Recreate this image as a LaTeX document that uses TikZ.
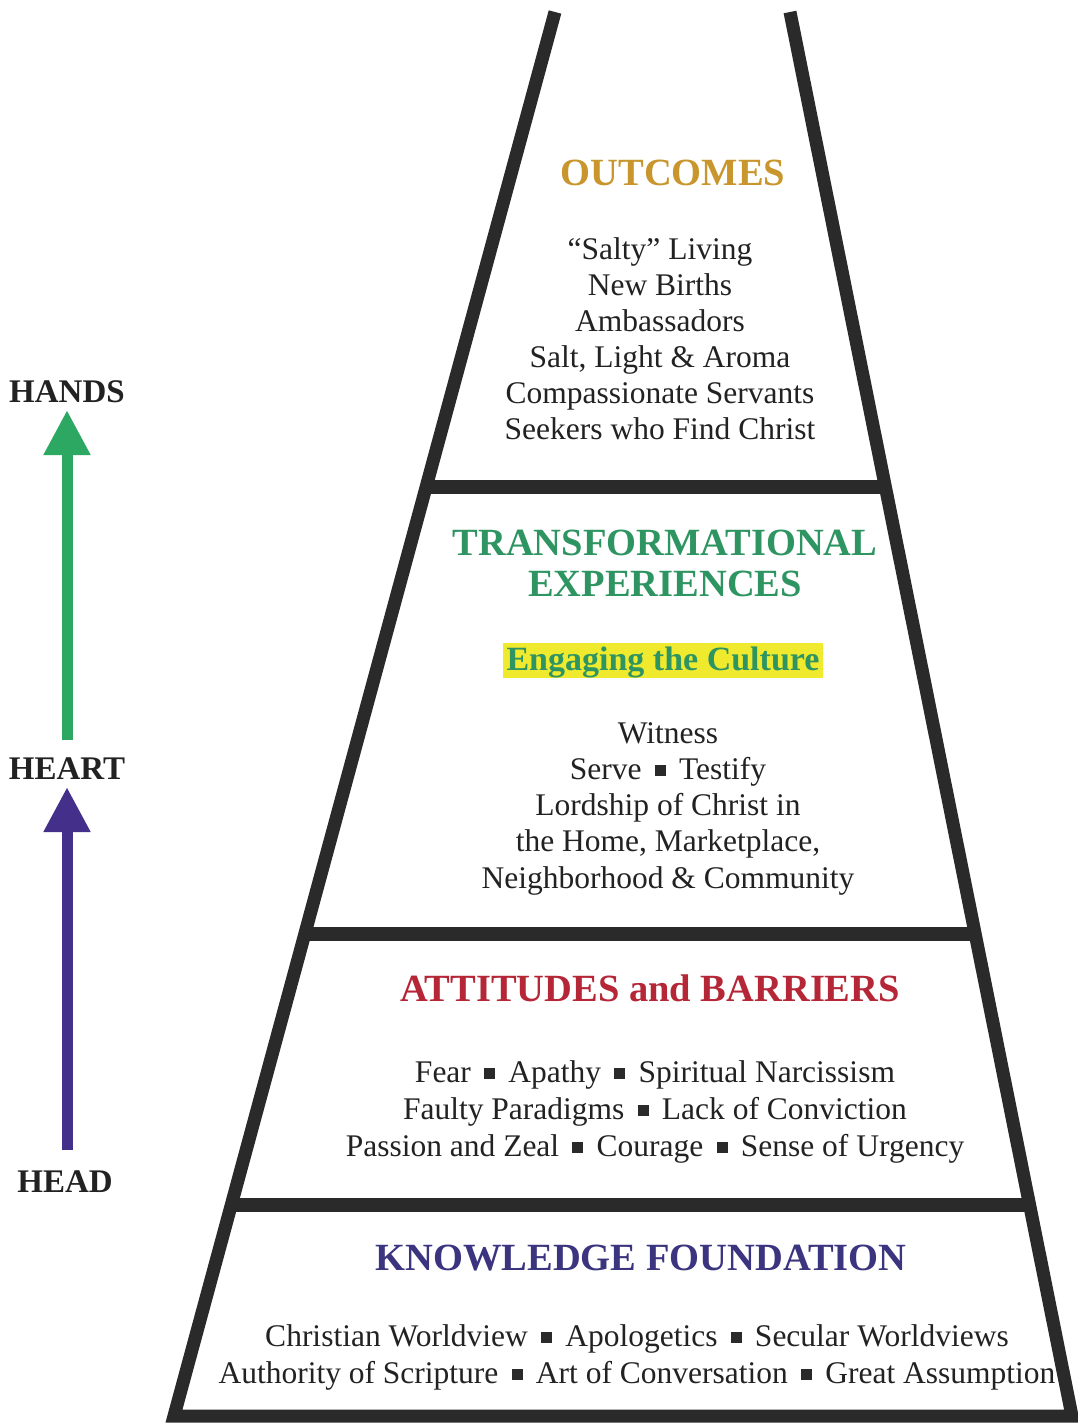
\documentclass[tikz,border=0pt]{standalone}
\usepackage{fontspec}
\setmainfont{Liberation Serif}
\usetikzlibrary{arrows.meta}
\definecolor{linegray}{HTML}{2A2A2A}
\definecolor{gold}{HTML}{C8962C}
\definecolor{tgreen}{HTML}{2E9562}
\definecolor{agreen}{HTML}{2DA862}
\definecolor{ared}{HTML}{B52636}
\definecolor{navy}{HTML}{3B347F}
\definecolor{apurple}{HTML}{44308A}
\definecolor{hilite}{HTML}{F0EA2E}
\definecolor{txt}{HTML}{222222}
\newcommand\sqb{\hspace{0.17em}\textcolor{linegray}{\raisebox{0.11em}{\rule{0.35em}{0.35em}}}\hspace{0.17em}}
\tikzset{
  frame/.style={draw=linegray, line width=13pt, line join=miter},
  divider/.style={draw=linegray, line width=14pt},
  heading/.style={font=\fontsize{38.5}{41}\selectfont\bfseries, anchor=base, align=center, inner sep=0pt},
  body/.style={font=\fontsize{31.5}{36.2}\selectfont, text=txt, anchor=base, align=center, inner sep=0pt},
  side/.style={font=\fontsize{33}{36}\selectfont\bfseries, text=txt, anchor=base, inner sep=0pt},
  uparrow/.style={line width=11pt, -{Triangle[width=44pt,length=45pt]}}
}
\begin{document}
\begin{tikzpicture}[x=1pt,y=-1pt]
\useasboundingbox[fill=white] (0,0) rectangle (1078,1424);
% frame
\coordinate (tl) at (555,12);
\coordinate (tr) at (790,12);
\coordinate (bl) at (174,1416);
\coordinate (br) at (1072,1416);
\draw[frame] (tl) -- (bl) -- (br) -- (tr);
% dividers
\coordinate (d1l) at (426,487);  \coordinate (d1r) at (885,487);
\coordinate (d2l) at (305,934);  \coordinate (d2r) at (975,934);
\coordinate (d3l) at (232,1205); \coordinate (d3r) at (1031,1205);
\draw[divider] (d1l) -- (d1r);
\draw[divider] (d2l) -- (d2r);
\draw[divider] (d3l) -- (d3r);
% outcomes (anchor base = last line)
\node[heading, text=gold] (outh) at (673,185) {OUTCOMES};
\node[body, font=\fontsize{31.5}{36}\selectfont] (outb) at (660,439) {``Salty'' Living\\New Births\\Ambassadors\\Salt, Light \& Aroma\\Compassionate Servants\\Seekers who Find Christ};
% transformational
\node[heading, text=tgreen] (trh) at (665,596) {TRANSFORMATIONAL\\EXPERIENCES};
\fill[hilite] (503,643) rectangle (823,678);
\node[font=\fontsize{34}{38}\selectfont\bfseries, text=tgreen, anchor=base, inner sep=0pt] (eng) at (663,670) {Engaging the Culture};
\node[body] (trb) at (668,888) {Witness\\Serve \sqb{} Testify\\Lordship of Christ in\\the Home, Marketplace,\\Neighborhood \& Community};
% attitudes
\node[heading, text=ared] (ath) at (650,1001) {ATTITUDES and BARRIERS};
\node[body, font=\fontsize{31.5}{37}\selectfont] (atb) at (655,1156) {Fear \sqb{} Apathy \sqb{} Spiritual Narcissism\\Faulty Paradigms \sqb{} Lack of Conviction\\Passion and Zeal \sqb{} Courage \sqb{} Sense of Urgency};
% knowledge
\node[heading, text=navy] (knh) at (641,1270) {KNOWLEDGE FOUNDATION};
\node[body, font=\fontsize{31.5}{37}\selectfont] (knb) at (637,1383) {Christian Worldview \sqb{} Apologetics \sqb{} Secular Worldviews\\Authority of Scripture \sqb{} Art of Conversation \sqb{} Great Assumption};
% side labels
\node[side] (hands) at (67,402) {HANDS};
\node[side] (heart) at (67,779) {HEART};
\node[side] (head) at (65,1192) {HEAD};
\coordinate (ga) at (67,740);
\coordinate (gb) at (67,410);
\coordinate (pa) at (67,1150);
\coordinate (pb) at (67,787);
\draw[uparrow, draw=agreen, fill=agreen] (ga) -- (gb);
\draw[uparrow, draw=apurple, fill=apurple] (pa) -- (pb);
\end{tikzpicture}
\end{document}
